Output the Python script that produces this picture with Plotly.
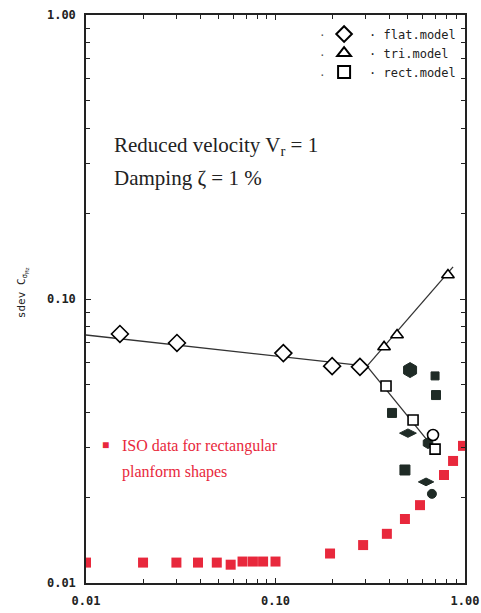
import plotly.graph_objects as go

# ---------------- data ----------------
flat_x = [0.0151, 0.0302, 0.110, 0.199, 0.279]
flat_y = [0.0753, 0.0700, 0.0645, 0.0580, 0.0577]

tri_x = [0.374, 0.438, 0.813]
tri_y = [0.0678, 0.0747, 0.1215]

rect_x = [0.383, 0.532, 0.695]
rect_y = [0.0494, 0.0375, 0.0296]

circ_x = [0.678]
circ_y = [0.0332]

flat_line_x = [0.01, 0.304]
flat_line_y = [0.0747, 0.058]
tri_line_x = [0.304, 0.865]
tri_line_y = [0.058, 0.1297]
rect_line_x = [0.304, 0.711]
rect_line_y = [0.058, 0.0289]

dark_x = [0.513, 0.695, 0.703, 0.412, 0.500, 0.638, 0.482, 0.623, 0.669]
dark_y = [0.0562, 0.0536, 0.0459, 0.0397, 0.0337, 0.0311, 0.0250, 0.0227, 0.0206]
dark_sym = ["hexagon", "square", "square", "square", "diamond-wide",
            "hexagon", "square", "diamond-wide", "circle"]
dark_size = [15, 8, 9, 9, 12, 11, 10, 11, 9]

iso_x = [0.01, 0.02, 0.03, 0.039, 0.049, 0.058, 0.067, 0.076, 0.086, 0.100,
         0.194, 0.290, 0.387, 0.482, 0.579, 0.775, 0.865, 0.976]
iso_y = [0.0118, 0.0118, 0.0118, 0.0118, 0.0118, 0.0116, 0.0119, 0.0119, 0.0119, 0.0119,
         0.0127, 0.0136, 0.0149, 0.0168, 0.0188, 0.0240, 0.0269, 0.0304]

legend_names = ["· flat.model", "· tri.model", "· rect.model"]
tick_vals = [0.01, 0.1, 1.0]
tick_text = ["<b>0.01</b>", "<b>0.10</b>", "<b>1.00</b>"]
minor_vals = [m * 10 ** k for k in (-2, -1) for m in range(2, 10)]

RED = "#e8283c"
DARK = "#1f2b26"
LINE = "#333333"
MONO = "DejaVu Sans Mono"
SERIF = "Liberation Serif, Times New Roman, serif"

fig = go.Figure()

for lx, ly in [(flat_line_x, flat_line_y), (tri_line_x, tri_line_y), (rect_line_x, rect_line_y)]:
    fig.add_trace(go.Scatter(x=lx, y=ly, mode="lines", line=dict(color=LINE, width=1.3),
                             showlegend=False, hoverinfo="skip"))

fig.add_trace(go.Scatter(x=iso_x, y=iso_y, mode="markers", showlegend=False,
                         marker=dict(symbol="square", size=10, color=RED, opacity=1)))

fig.add_trace(go.Scatter(x=dark_x, y=dark_y, mode="markers", showlegend=False,
                         marker=dict(symbol=dark_sym, size=dark_size, color=DARK, opacity=1,
                                     line=dict(color=DARK, width=1))))

open_marker = dict(color="white", line=dict(color="black", width=1.6))
fig.add_trace(go.Scatter(x=flat_x, y=flat_y, mode="markers", name=legend_names[0],
                         marker=dict(symbol="diamond", size=13, **open_marker)))
fig.add_trace(go.Scatter(x=tri_x, y=tri_y, mode="markers", name=legend_names[1],
                         marker=dict(symbol="triangle-up", size=11, **open_marker)))
fig.add_trace(go.Scatter(x=rect_x, y=rect_y, mode="markers", name=legend_names[2],
                         marker=dict(symbol="square", size=10, **open_marker)))
fig.add_trace(go.Scatter(x=circ_x, y=circ_y, mode="markers", showlegend=False,
                         marker=dict(symbol="circle", size=11, **open_marker)))

axis_common = dict(
    type="log", showgrid=False, zeroline=False, automargin=False,
    showline=True, linecolor="#222", linewidth=1.5, mirror="allticks",
    ticks="inside", ticklen=5, tickwidth=1.3, tickcolor="#222",
    tickvals=tick_vals, ticktext=tick_text,
    tickfont=dict(family=MONO, size=12, color="#222"),
    minor=dict(tickvals=minor_vals, ticks="inside", ticklen=4, tickwidth=1.2,
               tickcolor="#222"),
)

fig.update_xaxes(range=[-2, 0], ticklabelstandoff=6, **axis_common)
fig.update_yaxes(range=[-2, 0], ticklabelstandoff=6, **axis_common)

annotations = [
    dict(x=-0.169, y=0.512, xref="paper", yref="paper", xanchor="center", yanchor="middle",
         text="sdev C<sub>σ<sub>Mz</sub></sub>", textangle=-90, showarrow=False,
         font=dict(family=MONO, size=11, color="#222")),
    dict(x=0.069, y=0.769, xref="paper", yref="paper", xanchor="left", yanchor="middle",
         text="Reduced velocity V<sub>r</sub> = 1", showarrow=False,
         font=dict(family=SERIF, size=21, color="#222")),
    dict(x=0.069, y=0.713, xref="paper", yref="paper", xanchor="left", yanchor="middle",
         text="Damping ζ = 1 %", showarrow=False,
         font=dict(family=SERIF, size=21, color="#222")),
    dict(x=0.038, y=0.243, xref="paper", yref="paper", xanchor="left", yanchor="middle",
         text="■", showarrow=False, font=dict(family=SERIF, size=12, color=RED)),
    dict(x=0.089, y=0.241, xref="paper", yref="paper", xanchor="left", yanchor="middle",
         text="ISO data for rectangular", showarrow=False,
         font=dict(family=SERIF, size=16, color=RED)),
    dict(x=0.089, y=0.195, xref="paper", yref="paper", xanchor="left", yanchor="middle",
         text="planform shapes", showarrow=False,
         font=dict(family=SERIF, size=16, color=RED)),
    dict(x=0.34, y=-0.022, xref="x", yref="paper", xanchor="center", yanchor="top",
         text="<b>f</b>", showarrow=False, font=dict(family=MONO, size=12, color="#222")),
]
# small leader dots left of the legend symbols
for yy in (0.964, 0.929, 0.893):
    annotations.append(dict(x=0.623, y=yy, xref="paper", yref="paper", xanchor="center",
                            yanchor="middle", text="·", showarrow=False,
                            font=dict(family=MONO, size=11, color="#555")))

fig.update_layout(
    width=481, height=613,
    margin=dict(l=86, r=16, t=15, b=30),
    paper_bgcolor="white", plot_bgcolor="white",
    annotations=annotations,
    legend=dict(x=0.615, y=0.992, xanchor="left", yanchor="top",
                bgcolor="rgba(0,0,0,0)", font=dict(family=MONO, size=12, color="#222"),
                itemsizing="constant", tracegroupgap=0, itemwidth=40),
    showlegend=True,
)

fig.write_html(
    "out.html",
    config={"displayModeBar": False},
    post_script="document.body.style.margin='0';document.body.style.overflow='hidden';",
)
